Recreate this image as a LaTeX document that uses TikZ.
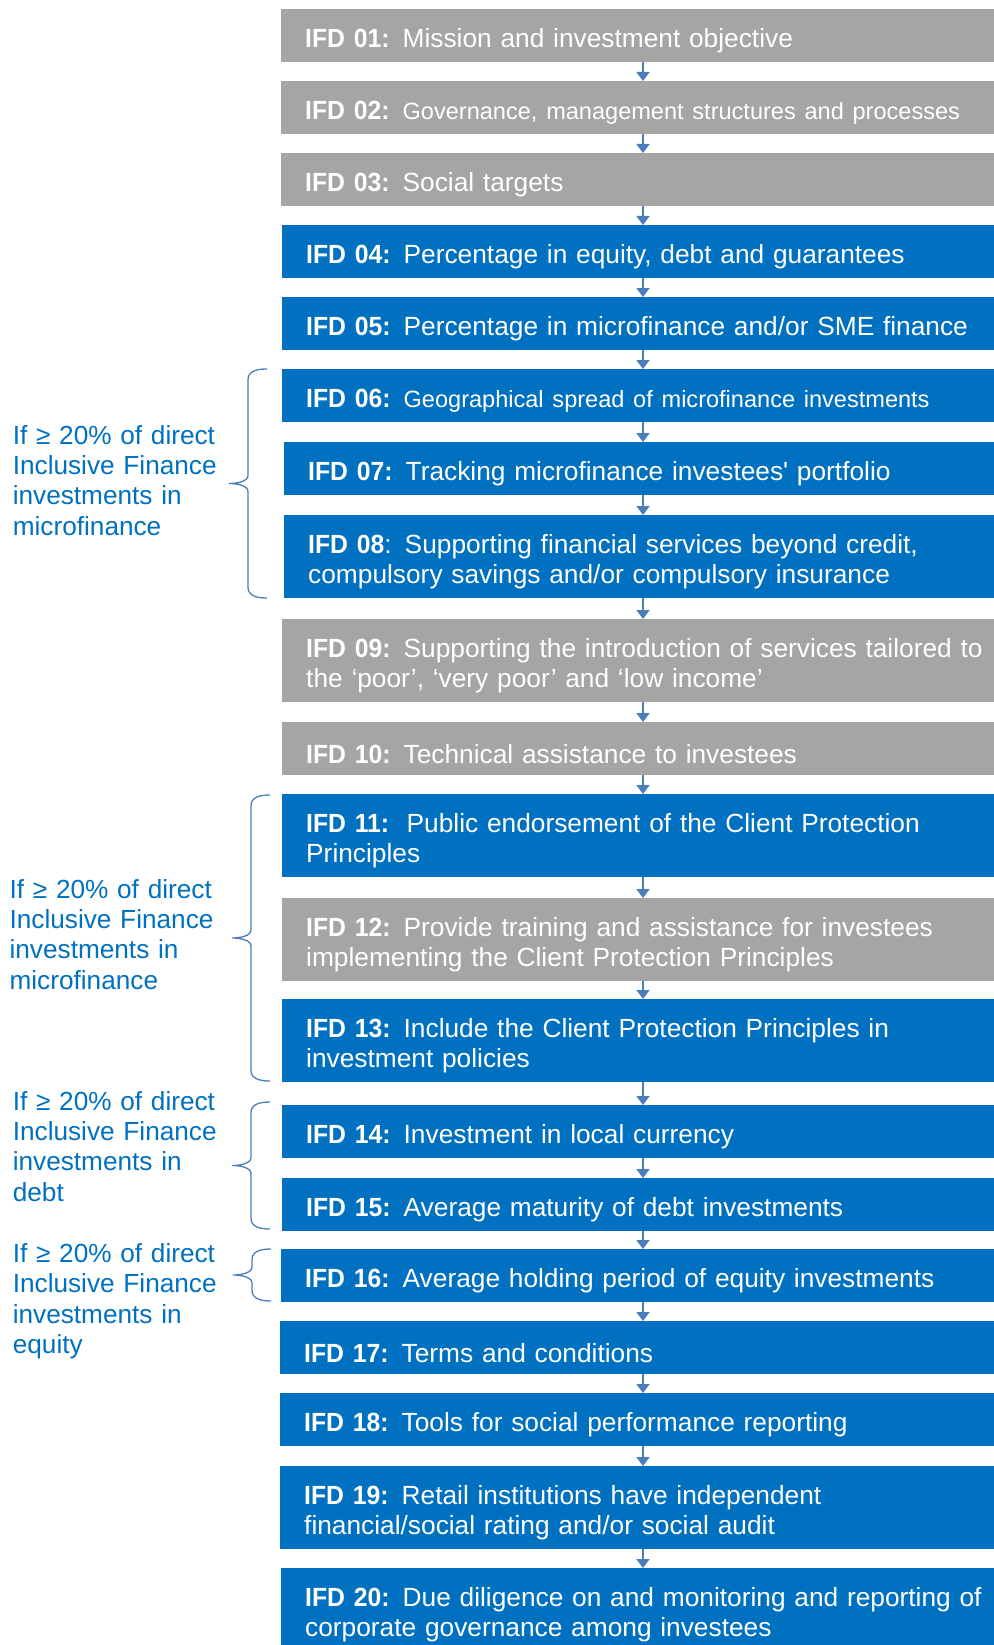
\documentclass[tikz,border=0pt]{standalone}
\usepackage{fontspec}
\setmainfont{Liberation Sans}
\usetikzlibrary{arrows.meta}

\definecolor{ifdgrey}{HTML}{A5A5A5}
\definecolor{ifdblue}{HTML}{0070C0}
\definecolor{linkblue}{HTML}{4A7EBB}
\newcommand{\ifdsize}{\fontsize{26.3}{30.4}\selectfont}
\newcommand{\ifdsmall}{\fontsize{23.55}{28}\selectfont}
\newcommand{\ifdtag}[1]{{\ifdsize\bfseries\addfontfeature{FakeStretch=0.94}IFD #1}}

\begin{document}
\begin{tikzpicture}[x=1pt, y=-1pt,
    ifdbox/.style ={rectangle, anchor=north west, text=white, text width=700pt, inner xsep=24pt, inner ysep=0pt, align=left, font=\ifdsize, execute at begin node={\rule{0pt}{29pt}}},
    oneline/.style ={ifdbox, minimum height=53pt},
    twoline/.style ={ifdbox, minimum height=83pt},
    greybox/.style ={fill=ifdgrey},
    bluebox/.style ={fill=ifdblue},
    flow/.style ={draw=linkblue, line width=1.6pt, -{Triangle[width=13pt,length=9pt]}},
    curly/.style ={draw=linkblue, line width=1.3pt},
    condition/.style ={anchor=north west, text=ifdblue, text width=240pt, inner sep=0pt, align=left, font=\fontsize{26.2}{30.4}\selectfont}]
   \useasboundingbox (0,0) rectangle (993,1645);

   \node[oneline, greybox] (ifd01) at (281,9) {\ifdtag{01:} Mission and investment objective};
   \node[oneline, greybox] (ifd02) at (281,81) {\ifdtag{02:} {\ifdsmall Governance, management structures and processes}};
   \node[oneline, greybox] (ifd03) at (281,153) {\ifdtag{03:} Social targets};
   \node[oneline, bluebox] (ifd04) at (282,225) {\ifdtag{04:} Percentage in equity, debt and guarantees};
   \node[oneline, bluebox] (ifd05) at (282,297) {\ifdtag{05:} Percentage in microfinance and/or SME finance};
   \node[oneline, bluebox] (ifd06) at (282,369) {\ifdtag{06:} {\ifdsmall Geographical spread of microfinance investments}};
   \node[oneline, bluebox] (ifd07) at (284,442) {\ifdtag{07:} Tracking microfinance investees\textquotesingle{} portfolio};
   \node[twoline, bluebox] (ifd08) at (284,515) {\ifdtag{08}: Supporting financial services beyond credit,\\compulsory savings and/or compulsory insurance};
   \node[twoline, greybox] (ifd09) at (282,619) {\ifdtag{09:} Supporting the introduction of services tailored to\\the ‘poor’, ‘very poor’ and ‘low income’};
   \node[oneline, greybox] (ifd10) at (282,722) {\ifdtag{10:} Technical assistance to investees};
   \node[twoline, bluebox] (ifd11) at (282,794) {\ifdtag{11:}\ \ Public endorsement of the Client Protection\\Principles};
   \node[twoline, greybox] (ifd12) at (282,898) {\ifdtag{12:} Provide training and assistance for investees\\implementing the Client Protection Principles};
   \node[twoline, bluebox] (ifd13) at (282,999) {\ifdtag{13:} Include the Client Protection Principles in\\investment policies};
   \node[oneline, bluebox] (ifd14) at (282,1105) {\ifdtag{14:} Investment in local currency};
   \node[oneline, bluebox] (ifd15) at (282,1178) {\ifdtag{15:} Average maturity of debt investments};
   \node[oneline, bluebox] (ifd16) at (281,1249) {\ifdtag{16:} Average holding period of equity investments};
   \node[oneline, bluebox] (ifd17) at (280,1321) {\ifdtag{17:} Terms and conditions};
   \node[oneline, bluebox] (ifd18) at (280,1393) {\ifdtag{18:} Tools for social performance reporting};
   \node[twoline, bluebox] (ifd19) at (280,1466) {\ifdtag{19:} Retail institutions have independent\\financial/social rating and/or social audit};
   \node[twoline, bluebox] (ifd20) at (281,1568) {\ifdtag{20:} Due diligence on and monitoring and reporting of\\corporate governance among investees};

   \node[condition] (cond1) at (12.6,425) {If ≥ 20\% of direct\\Inclusive Finance\\investments in\\microfinance};
   \node[condition] (cond2) at (9.4,879) {If ≥ 20\% of direct\\Inclusive Finance\\investments in\\microfinance};
   \node[condition] (cond3) at (12.6,1091) {If ≥ 20\% of direct\\Inclusive Finance\\investments in\\debt};
   \node[condition] (cond4) at (12.6,1243) {If ≥ 20\% of direct\\Inclusive Finance\\investments in\\equity};

   \coordinate (spine) at (643,0);

   \draw[flow] (ifd01.south -| spine) -- (ifd02.north -| spine);
   \draw[flow] (ifd02.south -| spine) -- (ifd03.north -| spine);
   \draw[flow] (ifd03.south -| spine) -- (ifd04.north -| spine);
   \draw[flow] (ifd04.south -| spine) -- (ifd05.north -| spine);
   \draw[flow] (ifd05.south -| spine) -- (ifd06.north -| spine);
   \draw[flow] (ifd06.south -| spine) -- (ifd07.north -| spine);
   \draw[flow] (ifd07.south -| spine) -- (ifd08.north -| spine);
   \draw[flow] (ifd08.south -| spine) -- (ifd09.north -| spine);
   \draw[flow] (ifd09.south -| spine) -- (ifd10.north -| spine);
   \draw[flow] (ifd10.south -| spine) -- (ifd11.north -| spine);
   \draw[flow] (ifd11.south -| spine) -- (ifd12.north -| spine);
   \draw[flow] (ifd12.south -| spine) -- (ifd13.north -| spine);
   \draw[flow] (ifd13.south -| spine) -- (ifd14.north -| spine);
   \draw[flow] (ifd14.south -| spine) -- (ifd15.north -| spine);
   \draw[flow] (ifd15.south -| spine) -- (ifd16.north -| spine);
   \draw[flow] (ifd16.south -| spine) -- (ifd17.north -| spine);
   \draw[flow] (ifd17.south -| spine) -- (ifd18.north -| spine);
   \draw[flow] (ifd18.south -| spine) -- (ifd19.north -| spine);
   \draw[flow] (ifd19.south -| spine) -- (ifd20.north -| spine);

   \foreach \t/\b/\x in {369/598/267, 795/1081/270, 1102/1229/270, 1249/1301/271} {
     \pgfmathsetmacro{\m}{(\t+\b)/2}
     \draw[curly] (\x,\t) .. controls ({\x-12},\t) and ({\x-19},{\t+3}) .. ({\x-19},{\t+11})
       -- ({\x-19},{\m-8}) .. controls ({\x-19},{\m-2}) and ({\x-30},\m) .. ({\x-38},\m)
       .. controls ({\x-30},\m) and ({\x-19},{\m+2}) .. ({\x-19},{\m+8})
       -- ({\x-19},{\b-11}) .. controls ({\x-19},{\b-3}) and ({\x-12},\b) .. (\x,\b);
   }
 \end{tikzpicture}
\end{document}
